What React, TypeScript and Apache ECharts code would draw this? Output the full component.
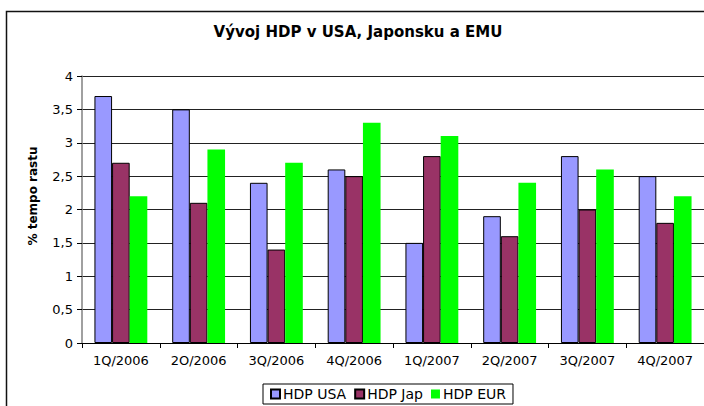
import React, { useEffect, useRef } from "react";
import * as echarts from "echarts";

const categories = ["1Q/2006", "2O/2006", "3Q/2006", "4Q/2006", "1Q/2007", "2Q/2007", "3Q/2007", "4Q/2007"];
const usa = [3.7, 3.5, 2.4, 2.6, 1.5, 1.9, 2.8, 2.5];
const jap = [2.7, 2.1, 1.4, 2.5, 2.8, 1.6, 2.0, 1.8];
const eur = [2.2, 2.9, 2.7, 3.3, 3.1, 2.4, 2.6, 2.2];
const seriesNames = ["HDP USA", "HDP Jap", "HDP EUR"];
const titleText = "Vývoj HDP v USA, Japonsku a EMU";
const yAxisName = "% tempo rastu";

const FONT = "'DejaVu Sans', sans-serif";

export default function App() {
  const ref = useRef<HTMLDivElement>(null);
  useEffect(() => {
    const chart = echarts.init(ref.current!, null, { renderer: "svg" });
    chart.setOption({
      animation: false,
      backgroundColor: "#ffffff",
      textStyle: { fontFamily: FONT },
      title: {
        text: titleText,
        left: 353,
        textAlign: "center",
        top: 19,
        textStyle: { fontSize: 15, fontWeight: "bold", color: "#000", fontFamily: FONT },
      },
      graphic: [
        {
          type: "rect",
          shape: { x: 6.5, y: 11.5, width: 720, height: 420 },
          style: { fill: "none", stroke: "#111", lineWidth: 1.5 },
          silent: true,
          z: 100,
        },
        {
          type: "text",
          x: 33,
          y: 196,
          rotation: Math.PI / 2,
          style: {
            text: yAxisName,
            fontSize: 12,
            fontWeight: "bold",
            fontFamily: FONT,
            fill: "#000",
            align: "center",
            verticalAlign: "middle",
          },
        },
      ],
      legend: {
        data: seriesNames,
        left: 263,
        top: 384,
        orient: "horizontal",
        icon: "rect",
        itemWidth: 9,
        itemHeight: 9,
        itemGap: 8,
        padding: [3, 7, 3, 7],
        borderColor: "#000",
        borderWidth: 1,
        textStyle: { fontSize: 14, color: "#000", fontFamily: FONT, padding: [0, 0, 0, -2] },
      },
      grid: { left: 82, right: 0, top: 76, bottom: 63, containLabel: false },
      xAxis: {
        type: "category",
        data: categories,
        boundaryGap: true,
        axisLine: { show: true, lineStyle: { color: "#000", width: 1 } },
        axisTick: { show: true, alignWithLabel: false, length: 5, lineStyle: { color: "#000" } },
        axisLabel: { fontSize: 13, color: "#000", margin: 11, fontFamily: FONT },
        splitLine: { show: false },
      },
      yAxis: {
        type: "value",
        min: 0,
        max: 4,
        interval: 0.5,
        axisLine: { show: true, lineStyle: { color: "#808080", width: 1.5 } },
        axisTick: { show: true, inside: false, length: 5, lineStyle: { color: "#000" } },
        axisLabel: {
          fontSize: 13,
          color: "#000",
          margin: 9,
          fontFamily: FONT,
          formatter: (v: number) => String(v).replace(".", ","),
        },
        splitLine: { show: true, lineStyle: { color: "#222", width: 1 } },
      },
      series: [
        {
          name: seriesNames[0],
          type: "bar",
          data: usa,
          barGap: "0%",
          barCategoryGap: "32%",
          itemStyle: { color: "#9999FF", borderColor: "#000", borderWidth: 1 },
        },
        {
          name: seriesNames[1],
          type: "bar",
          data: jap,
          itemStyle: { color: "#993366", borderColor: "#000", borderWidth: 1 },
        },
        {
          name: seriesNames[2],
          type: "bar",
          data: eur,
          itemStyle: { color: "#00FF00", borderWidth: 0 },
        },
      ],
    });
    return () => chart.dispose();
  }, []);
  return (
    <div
      ref={ref}
      style={{ position: "fixed", left: 0, top: 0, width: 704, height: 406 }}
    />
  );
}
